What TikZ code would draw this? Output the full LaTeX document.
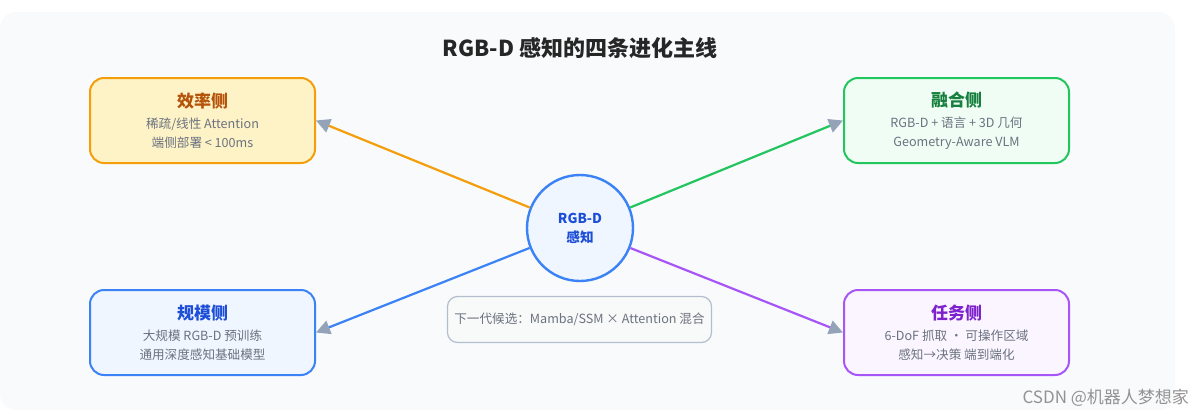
\documentclass[tikz,border=0pt]{standalone}
\usepackage{fontspec}
\setmainfont{Noto Sans CJK SC}
\usetikzlibrary{arrows.meta}
\definecolor{panel}{HTML}{F8FAFC}
\definecolor{tipgray}{HTML}{94A3B8}
\definecolor{txtgray}{HTML}{6B7280}
\definecolor{effline}{HTML}{F59E0B}\definecolor{efffill}{HTML}{FEF3C7}\definecolor{efftxt}{HTML}{B45309}
\definecolor{fusline}{HTML}{22C55E}\definecolor{fusfill}{HTML}{F0FDF4}\definecolor{fustxt}{HTML}{15803D}
\definecolor{scaline}{HTML}{3B82F6}\definecolor{scafill}{HTML}{EFF6FF}\definecolor{scatxt}{HTML}{1D4ED8}
\definecolor{tskline}{HTML}{A855F7}\definecolor{tskfill}{HTML}{FAF5FF}\definecolor{tsktxt}{HTML}{7E22CE}
\newcommand{\branchtext}[4]{\textcolor{#1}{\fontsize{8.5}{11}\selectfont\bfseries #2}\\[1pt]\textcolor{txtgray}{#3}\\\textcolor{txtgray}{#4}}
\tikzset{
  branch/.style={draw=#1line,fill=#1fill,line width=1pt,rounded corners=7pt,
    minimum width=112.5pt,minimum height=42.5pt,align=center,inner sep=2pt,
    font=\fontsize{6.3}{9.5}\selectfont},
  body/.style={font=\fontsize{6.3}{9}\selectfont,text=txtgray},
  link/.style={line width=1.1pt,-{Triangle[color=tipgray,length=7pt,width=7pt]}},
}
\begin{document}
\begin{tikzpicture}[x=0.5pt,y=-0.5pt]
  \useasboundingbox (0,0) rectangle (1200,418);
  \fill[panel,rounded corners=8pt] (0,12) rectangle (1175,410);
  \node[font=\fontsize{11}{12}\selectfont\bfseries,text={black!85}] (title) at (580,48) {RGB-D 感知的四条进化主线};
  % four branches
  \node[branch=eff] (eff) at (202.5,120.5) {\branchtext{efftxt}{效率侧}{稀疏/线性 Attention}{端侧部署 < 100ms}};
  \node[branch=fus] (fus) at (956.5,120.5) {\branchtext{fustxt}{融合侧}{RGB-D + 语言 + 3D 几何}{Geometry-Aware VLM}};
  \node[branch=sca] (sca) at (202.5,332.5) {\branchtext{scatxt}{规模侧}{大规模 RGB-D 预训练}{通用深度感知基础模型}};
  \node[branch=tsk] (tsk) at (956.5,332.5) {\branchtext{tsktxt}{任务侧}{6-DoF 抓取 · 可操作区域}{感知→决策 端到端化}};
  % centre
  \node[circle,draw=scaline,fill=scafill,line width=1.2pt,minimum size=53pt,align=center,
    text=scatxt,font=\fontsize{6.8}{9.5}\selectfont\bfseries] (core) at (580,228) {RGB-D\\感知};
  \draw[link,effline] (core) -- (eff.east);
  \draw[link,fusline] (core) -- (fus.west);
  \draw[link,scaline] (core) -- (sca.east);
  \draw[link,tskline] (core) -- (tsk.west);
  \node[draw=tipgray!70,fill=panel!60!gray!12,rounded corners=5pt,line width=0.6pt,
    minimum width=132pt,minimum height=23pt,body] (next) at (579.5,319.5) {下一代候选：Mamba/SSM × Attention 混合};
  \node[font=\fontsize{8.5}{9}\selectfont,text=gray!85,anchor=east] (mark) at (1196,398) {CSDN @机器人梦想家};
\end{tikzpicture}
\end{document}
